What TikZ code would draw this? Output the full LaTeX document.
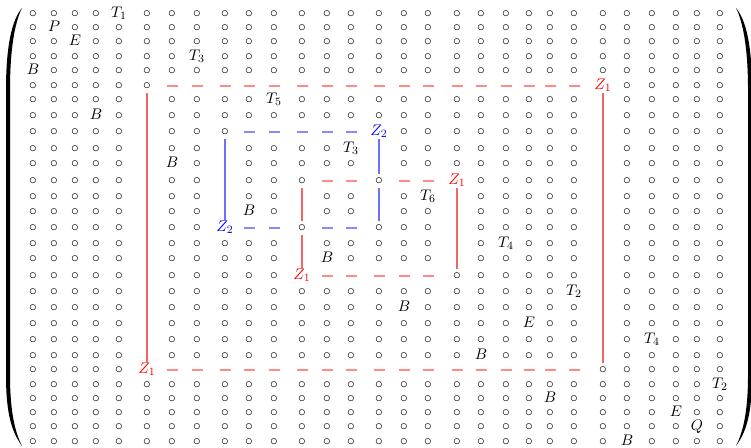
\documentclass[tikz,border=0pt]{standalone}
\usetikzlibrary{calc}
\definecolor{zred}{HTML}{FF0000}
\definecolor{zblue}{HTML}{0000FF}
\definecolor{dashred}{HTML}{FF8A8A}
\definecolor{dashblue}{HTML}{8A8AFF}
\definecolor{linered}{HTML}{F46464}
\definecolor{lineblue}{HTML}{6F6FFF}

% column and row positions of the entries
\newcommand\colpos{33,54,75,96,119,147,172,197,225,249,274,302,327,351,379,404,428,457,481,506,529,550,574,603,627,652,676,697,720}
\newcommand\rowpos{14,28,42,57,71,86,100,116,132,149,164,181,197,212,228,244,259,276,292,308,324,340,356,370,385,399,413,427,442}

% entries that are not a circle
\newcommand\setcell[3]{\expandafter\gdef\csname cell-#1-#2\endcsname{#3}}
\newcommand\blankrow[2]{\foreach \k in {#2} {\setcell{#1}{\k}{}}}
\newcommand\blankcol[2]{\foreach \k in {#2} {\setcell{\k}{#1}{}}}

% outer frame
\blankrow{6}{7,...,23}
\blankrow{24}{7,...,23}
\blankcol{6}{7,...,23}
\blankcol{24}{7,...,23}
% blue frame
\blankrow{9}{10,...,14}
\blankrow{15}{10,11,13,14}
\blankcol{9}{10,...,14}
\blankcol{15}{10,11,13,14}
% inner frame
\blankrow{12}{13,14,16,17}
\blankrow{18}{13,...,17}
\blankcol{12}{13,14,16,17}
\blankcol{18}{13,...,17}

\setcell{6}{24}{$\color{zred}Z_1$}
\setcell{24}{6}{$\color{zred}Z_1$}
\setcell{12}{18}{$\color{zred}Z_1$}
\setcell{18}{12}{$\color{zred}Z_1$}
\setcell{9}{15}{$\color{zblue}Z_2$}
\setcell{15}{9}{$\color{zblue}Z_2$}

\setcell{1}{5}{$T_1$}
\setcell{4}{8}{$T_3$}
\setcell{7}{11}{$T_5$}
\setcell{10}{14}{$T_3$}
\setcell{13}{17}{$T_6$}
\setcell{16}{20}{$T_4$}
\setcell{19}{23}{$T_2$}
\setcell{22}{26}{$T_4$}
\setcell{25}{29}{$T_2$}

\setcell{5}{1}{$B$}
\setcell{8}{4}{$B$}
\setcell{11}{7}{$B$}
\setcell{14}{10}{$B$}
\setcell{17}{13}{$B$}
\setcell{20}{16}{$B$}
\setcell{23}{19}{$B$}
\setcell{26}{22}{$B$}
\setcell{29}{25}{$B$}

\setcell{2}{2}{$P$}
\setcell{3}{3}{$E$}
\setcell{21}{21}{$E$}
\setcell{27}{27}{$E$}
\setcell{28}{28}{$Q$}

\begin{document}
\begin{tikzpicture}[
    x=0.714pt, y=-0.714pt,
    cell/.style={
        inner sep=0pt,
        font=\fontsize{11}{13}\selectfont,
        text height=7pt,
        text depth=2pt,
    },
    reddash/.style={
        dashred,
        line width=1.5pt,
    },
    bluedash/.style={
        dashblue,
        line width=1.5pt,
    },
    redline/.style={
        linered,
        line width=0.8pt,
        shorten <=5pt, shorten >=5pt,
    },
    blueline/.style={
        lineblue,
        line width=0.8pt,
        shorten <=5pt, shorten >=5pt,
    },
]

\useasboundingbox (0,0) rectangle (751,447);

% Entries
\foreach \x [count=\c] in \colpos {
    \foreach \y [count=\r] in \rowpos {
        \ifcsname cell-\r-\c\endcsname
            \node[cell] (m-\r-\c) at (\x,\y) {\csname cell-\r-\c\endcsname};
        \else
            \node[cell] (m-\r-\c) at (\x,\y) {$\circ$};
        \fi
    }
}

% Horizontal dashes, one per entry
\foreach \c in {7,...,23} {
    \draw[reddash] (m-6-\c.center) +(-5.5,0) -- +(5.5,0);
    \draw[reddash] (m-24-\c.center) +(-5.5,0) -- +(5.5,0);
}
\foreach \c in {13,14,16,17} {
    \draw[reddash] (m-12-\c.center) +(-5.5,0) -- +(5.5,0);
}
\foreach \c in {13,...,17} {
    \draw[reddash] (m-18-\c.center) +(-5.5,0) -- +(5.5,0);
}
\foreach \c in {10,...,14} {
    \draw[bluedash] (m-9-\c.center) +(-5.5,0) -- +(5.5,0);
}
\foreach \c in {10,11,13,14} {
    \draw[bluedash] (m-15-\c.center) +(-5.5,0) -- +(5.5,0);
}

% Vertical lines
\draw[redline] (m-6-6.center) -- (m-24-6.center);
\draw[redline] (m-6-24.center) -- (m-24-24.center);
\draw[redline] (m-12-12.center) -- (m-15-12.center);
\draw[redline] (m-15-12.center) -- (m-18-12.center);
\draw[redline] (m-12-18.center) -- (m-18-18.center);
\draw[blueline] (m-9-9.center) -- (m-15-9.center);
\draw[blueline] (m-9-15.center) -- (m-12-15.center);
\draw[blueline] (m-12-15.center) -- (m-15-15.center);

% Parentheses
\fill (22,8) .. controls (12,20) and (6,45) .. (6,90) -- (6,375)
    .. controls (6,415) and (12,432) .. (22,446)
    .. controls (15,432) and (10,412) .. (10,375) -- (10,90)
    .. controls (10,48) and (15,22) .. (22,8) -- cycle;
\fill (736,8) .. controls (746,20) and (752,45) .. (752,90) -- (752,375)
    .. controls (752,415) and (746,432) .. (736,446)
    .. controls (743,432) and (748,412) .. (748,375) -- (748,90)
    .. controls (748,48) and (743,22) .. (736,8) -- cycle;

\end{tikzpicture}
\end{document}
